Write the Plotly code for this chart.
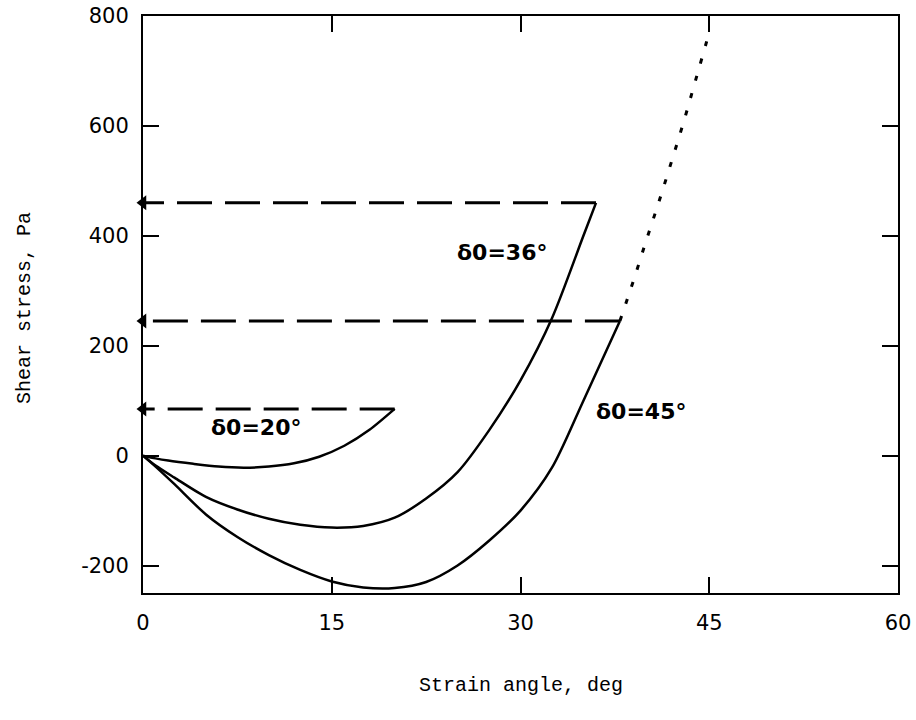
import plotly.graph_objects as go

# --- data ---
d20_x = [0, 1, 2, 4, 6, 8, 10, 12, 14, 16, 18, 20]
d20_y = [0, -5, -9, -15, -20, -22, -20, -14, -2, 18, 47, 85]

d36_x = [0, 1, 2.5, 5, 7.5, 10, 12.5, 15, 17.5, 20, 22.5, 25, 27.5, 30, 32.5, 35, 36]
d36_y = [0, -18, -40, -75, -98, -115, -126, -131, -128, -113, -78, -30, 46, 137, 250, 400, 460]

d45_x = [0, 1, 2.5, 5, 7.5, 10, 12.5, 15, 17.5, 20, 22.5, 25, 27.5, 30, 32.5, 35, 37.9]
d45_y = [0, -20, -52, -107, -148, -181, -208, -229, -240, -241, -230, -200, -155, -100, -22, 100, 245]

d45_ext_x = [37.9, 39, 40, 41, 42, 43, 44, 45]
d45_ext_y = [245, 320, 392, 462, 535, 610, 690, 770]

arrow_y = [460, 245, 85]
arrow_x_start = [36, 37.9, 20]

labels = ["δ0=20°", "δ0=36°", "δ0=45°"]
label_x = [9.0, 28.5, 39.6]
label_y = [51, 369, 80]

x_ticks = [0, 15, 30, 45, 60]
x_tick_text = ["0", "15", "30", "45", "60"]
y_ticks = [-200, 0, 200, 400, 600, 800]
y_tick_text = ["-200", "0", "200", "400", "600", "800"]

fig = go.Figure()

for xs, ys in [(d20_x, d20_y), (d36_x, d36_y), (d45_x, d45_y)]:
    fig.add_trace(go.Scatter(x=xs, y=ys, mode="lines",
                             line=dict(color="black", width=2.5, shape="spline", smoothing=0.8),
                             showlegend=False, hoverinfo="skip"))

fig.add_trace(go.Scatter(x=d45_ext_x, y=d45_ext_y, mode="lines",
                         line=dict(color="black", width=3, dash="5px,13px", shape="spline"),
                         showlegend=False, hoverinfo="skip"))

for xs, ys in zip(arrow_x_start, arrow_y):
    fig.add_trace(go.Scatter(x=[xs, 0], y=[ys, ys], mode="lines",
                             line=dict(color="black", width=3, dash="35px,13px"),
                             showlegend=False, hoverinfo="skip"))

fig.add_trace(go.Scatter(x=[0] * len(arrow_y), y=arrow_y, mode="markers",
                         marker=dict(symbol="triangle-left", size=13, color="black"),
                         cliponaxis=False, showlegend=False, hoverinfo="skip"))

for t, lx, ly in zip(labels, label_x, label_y):
    fig.add_annotation(x=lx, y=ly, text="<b>" + t + "</b>", showarrow=False,
                       font=dict(family="DejaVu Sans", size=22, color="black"))

fig.add_annotation(x=0.5, y=0, xref="paper", yref="paper", yanchor="middle",
                   yshift=-92, showarrow=False, text="Strain angle, deg",
                   font=dict(family="Liberation Mono", size=20, color="black"))
fig.add_annotation(x=0, y=0.494, xref="paper", yref="paper", xanchor="center",
                   xshift=-118, showarrow=False, text="Shear stress, Pa", textangle=-90,
                   font=dict(family="Liberation Mono", size=20, color="black"))

axis_common = dict(showgrid=False, zeroline=False, showline=True, linecolor="black",
                   linewidth=2, mirror="ticks", ticks="inside", ticklen=16,
                   tickwidth=1.5, tickcolor="black", automargin=False,
                   ticklabeloverflow="allow",
                   tickfont=dict(family="DejaVu Sans", size=21, color="black"))

fig.update_xaxes(range=[0, 60], tickvals=x_ticks, ticktext=x_tick_text,
                 ticklabelstandoff=10, **axis_common)
fig.update_yaxes(range=[-250, 800], tickvals=y_ticks, ticktext=y_tick_text,
                 ticklabelstandoff=8, **axis_common)

fig.update_layout(width=916, height=720, margin=dict(l=143, r=18, t=16, b=127),
                  paper_bgcolor="white", plot_bgcolor="white")

# remove the default 8px page margin so the figure fills the window exactly
fig.write_html("out.html", config={"displayModeBar": False},
               post_script="document.body.style.margin='0';")
